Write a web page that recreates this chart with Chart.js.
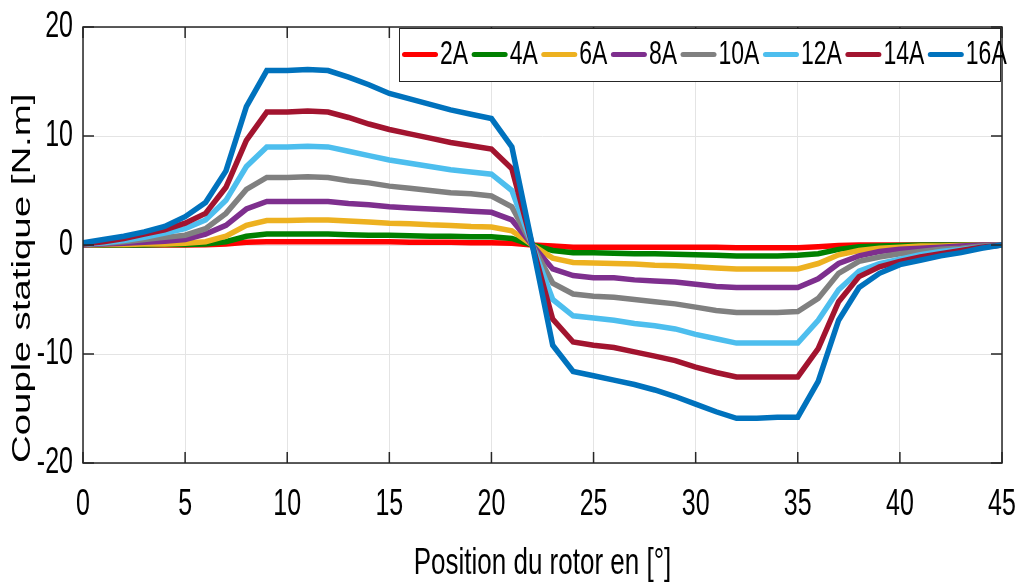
<!DOCTYPE html>
<html>
<head>
<meta charset="utf-8">
<script src="https://cdn.jsdelivr.net/npm/chart.js@4.4.1/dist/chart.umd.min.js"></script>
<style>
  body { margin: 0; background: #fff; }
  #wrap { width: 1017px; height: 582px; }
</style>
</head>
<body>
<div id="wrap"><canvas id="coupleChart"></canvas></div>
<script>
// rotor position (deg)
const positions = [0, 1, 2, 3, 4, 5, 6, 7, 8, 9, 10, 11, 12, 13, 14, 15, 16, 17, 18, 19, 20, 21, 22,
    23, 24, 25, 26, 27, 28, 29, 30, 31, 32, 33, 34, 35, 36, 37, 38, 39, 40, 41, 42, 43, 44, 45];

// static torque (N.m) for each current
const torque2A = [0, 0, 0, 0, 0, 0, 0.02, 0.1, 0.25, 0.3, 0.3, 0.3, 0.3, 0.3, 0.3, 0.3, 0.25, 0.25, 0.25, 0.2, 0.2, 0.15, 0,
    -0.1, -0.2, -0.2, -0.2, -0.2, -0.2, -0.2, -0.2, -0.2, -0.25, -0.25, -0.25, -0.25, -0.15, -0.05, 0, 0, 0, 0, 0, 0, 0, 0];
const torque4A = [0, 0, 0, 0, 0.05, 0.05, 0.1, 0.3, 0.8, 1.0, 1.0, 1.0, 1.0, 0.95, 0.9, 0.9, 0.85, 0.8, 0.8, 0.75, 0.75, 0.6, 0,
    -0.5, -0.7, -0.7, -0.75, -0.8, -0.8, -0.85, -0.9, -0.95, -1.0, -1.0, -1.0, -0.95, -0.8, -0.4, -0.15, -0.1, -0.05, 0, 0, 0, 0, 0];
const torque6A = [0, 0.05, 0.05, 0.1, 0.1, 0.15, 0.3, 0.8, 1.8, 2.25, 2.25, 2.3, 2.3, 2.2, 2.1, 2.0, 1.95, 1.85, 1.8, 1.7, 1.65, 1.3, 0,
    -1.2, -1.6, -1.65, -1.7, -1.75, -1.85, -1.9, -2.0, -2.1, -2.2, -2.2, -2.2, -2.2, -1.7, -0.9, -0.5, -0.3, -0.2, -0.1, -0.1, -0.05, 0, 0];
const torque8A = [0, 0.1, 0.15, 0.25, 0.35, 0.5, 1.0, 1.8, 3.3, 4.0, 4.0, 4.0, 4.0, 3.8, 3.7, 3.5, 3.4, 3.3, 3.2, 3.1, 3.0, 2.3, 0,
    -2.2, -2.8, -3.0, -3.0, -3.2, -3.3, -3.4, -3.6, -3.8, -3.9, -3.9, -3.9, -3.9, -3.1, -1.7, -1.0, -0.6, -0.4, -0.3, -0.2, -0.1, 0, 0];
const torque10A = [0.05, 0.15, 0.3, 0.5, 0.7, 0.9, 1.5, 2.9, 5.1, 6.2, 6.2, 6.25, 6.2, 5.9, 5.7, 5.4, 5.2, 5.0, 4.8, 4.7, 4.5, 3.5, 0,
    -3.5, -4.5, -4.7, -4.8, -5.0, -5.2, -5.4, -5.7, -6.0, -6.2, -6.2, -6.2, -6.1, -4.9, -2.6, -1.5, -1.1, -0.8, -0.6, -0.4, -0.3, -0.1, 0];
const torque12A = [0.1, 0.2, 0.4, 0.7, 1.1, 1.5, 2.3, 4.1, 7.2, 9.0, 9.0, 9.05, 9.0, 8.6, 8.2, 7.8, 7.5, 7.2, 6.9, 6.7, 6.5, 5.0, 0,
    -5.0, -6.5, -6.7, -6.9, -7.2, -7.4, -7.7, -8.2, -8.6, -9.0, -9.0, -9.0, -9.0, -6.9, -4.1, -2.4, -1.7, -1.3, -0.9, -0.6, -0.4, -0.2, 0];
const torque14A = [0.1, 0.3, 0.6, 1.0, 1.4, 2.0, 2.9, 5.3, 9.6, 12.2, 12.2, 12.3, 12.2, 11.7, 11.1, 10.6, 10.2, 9.8, 9.4, 9.1, 8.8, 7.0, 0,
    -6.8, -8.9, -9.2, -9.4, -9.8, -10.2, -10.6, -11.2, -11.7, -12.1, -12.1, -12.1, -12.1, -9.5, -5.2, -2.9, -2.0, -1.5, -1.1, -0.8, -0.5, -0.2, 0];
const torque16A = [0.2, 0.5, 0.8, 1.2, 1.7, 2.6, 3.9, 6.8, 12.7, 16.0, 16.0, 16.1, 16.0, 15.4, 14.7, 13.9, 13.4, 12.9, 12.4, 12.0, 11.6, 9.0, 0,
    -9.2, -11.6, -12.0, -12.4, -12.8, -13.3, -13.9, -14.6, -15.3, -15.9, -15.9, -15.8, -15.8, -12.5, -6.9, -3.9, -2.6, -1.8, -1.4, -1.0, -0.7, -0.3, 0];

const seriesLabels = ['2A', '4A', '6A', '8A', '10A', '12A', '14A', '16A'];
const seriesData = [torque2A, torque4A, torque6A, torque8A, torque10A, torque12A, torque14A, torque16A];
const seriesColors = ['#FF0000', '#008000', '#EDB120', '#7E2F8E', '#808080', '#4DBEEE', '#A2142F', '#0072BD'];

const arial = "'Liberation Sans', Arial, sans-serif";
const axisColor = '#262626';

const ctxCouple = document.getElementById('coupleChart').getContext('2d');

// the original figure's text is Arial squeezed into tall glyphs: stretch every
// text vertically around its anchor point
const STRETCH = 1.45;
const rawFillText = ctxCouple.fillText.bind(ctxCouple);
ctxCouple.fillText = function (text, x, y, maxWidth) {
    const m = this.getTransform();
    const p = m.transformPoint(new DOMPoint(x, y));
    this.setTransform(new DOMMatrix().translate(p.x, p.y).scale(1, STRETCH).translate(-p.x, -p.y).multiply(m));
    if (maxWidth === undefined) rawFillText(text, x, y);
    else rawFillText(text, x, y, maxWidth);
    this.setTransform(m);
};

// MATLAB-like box with inward ticks
const framePlugin = {
    id: 'frame',
    afterDatasetsDraw(chart) {
        const {ctx, chartArea: a, scales: {x, y}} = chart;
        ctx.save();
        ctx.strokeStyle = axisColor;
        ctx.lineWidth = 1.5;
        ctx.beginPath();
        x.ticks.forEach(t => {
            const px = x.getPixelForValue(t.value);
            ctx.moveTo(px, a.bottom); ctx.lineTo(px, a.bottom - 11);
            ctx.moveTo(px, a.top); ctx.lineTo(px, a.top + 11);
        });
        y.ticks.forEach(t => {
            const py = y.getPixelForValue(t.value);
            ctx.moveTo(a.left, py); ctx.lineTo(a.left + 11, py);
            ctx.moveTo(a.right, py); ctx.lineTo(a.right - 11, py);
        });
        ctx.stroke();
        ctx.strokeRect(a.left, a.top, a.right - a.left, a.bottom - a.top);
        ctx.restore();
    }
};

// horizontal legend inside the axes, top right
const legendPlugin = {
    id: 'boxLegend',
    afterDraw(chart) {
        const {ctx} = chart;
        const box = {left: 399, top: 28, right: 1001, bottom: 82};
        ctx.save();
        ctx.fillStyle = '#fff';
        ctx.fillRect(box.left, box.top, box.right - box.left, box.bottom - box.top);
        ctx.strokeStyle = axisColor;
        ctx.lineWidth = 1;
        ctx.strokeRect(box.left + 0.5, box.top + 0.5, box.right - box.left - 1, box.bottom - box.top - 1);
        ctx.font = '23px ' + arial;
        ctx.textBaseline = 'middle';
        ctx.textAlign = 'left';
        const midY = 54.5;
        let cx = box.left + 3;
        chart.data.datasets.forEach(ds => {
            ctx.strokeStyle = ds.borderColor;
            ctx.lineWidth = 5;
            ctx.lineCap = 'round';
            ctx.beginPath();
            ctx.moveTo(cx + 2.5, midY);
            ctx.lineTo(cx + 33.5, midY);
            ctx.stroke();
            ctx.fillStyle = '#000';
            ctx.fillText(ds.label, cx + 38, midY);
            cx += 38 + ctx.measureText(ds.label).width + 3.5;
        });
        ctx.restore();
    }
};

const coupleChart = new Chart(ctxCouple, {
    type: 'line',
    data: {
        datasets: seriesLabels.map((lbl, i) => ({
            label: lbl,
            data: positions.map((p, k) => ({x: p, y: seriesData[i][k]})),
            borderColor: seriesColors[i],
            backgroundColor: seriesColors[i],
            borderWidth: 5.5,
            pointRadius: 0,
            tension: 0,
            fill: false,
            order: seriesLabels.length - i
        }))
    },
    options: {
        responsive: true,
        maintainAspectRatio: false,
        animation: false,
        layout: { padding: { top: 27, right: 15 } },
        scales: {
            x: {
                type: 'linear',
                min: 0,
                max: 45,
                ticks: { stepSize: 5, padding: 27, color: '#000', font: { family: arial, size: 25 } },
                grid: { color: '#e4e4e4', drawTicks: false },
                border: { display: false },
                title: { display: true, text: 'Position du rotor en [°]', color: '#000',
                         font: { family: arial, size: 26 }, padding: { top: 0, bottom: 3 } },
                afterFit: s => { s.height = 119; s.paddingLeft = 0; s.paddingRight = 0; }
            },
            y: {
                min: -20,
                max: 20,
                ticks: { stepSize: 10, padding: 10, color: '#000', font: { family: arial, size: 25 } },
                grid: { color: '#e4e4e4', drawTicks: false },
                border: { display: false },
                title: { display: true, text: 'Couple statique [N.m]', color: '#000', align: 'start',
                         font: { family: arial, size: 26.5 }, padding: { top: 7, bottom: 0 } },
                afterFit: s => { s.width = 83; s.paddingTop = 0; s.paddingBottom = 0; }
            }
        },
        plugins: {
            legend: { display: false },
            tooltip: { enabled: false }
        }
    },
    plugins: [framePlugin, legendPlugin]
});
</script>
</body>
</html>
